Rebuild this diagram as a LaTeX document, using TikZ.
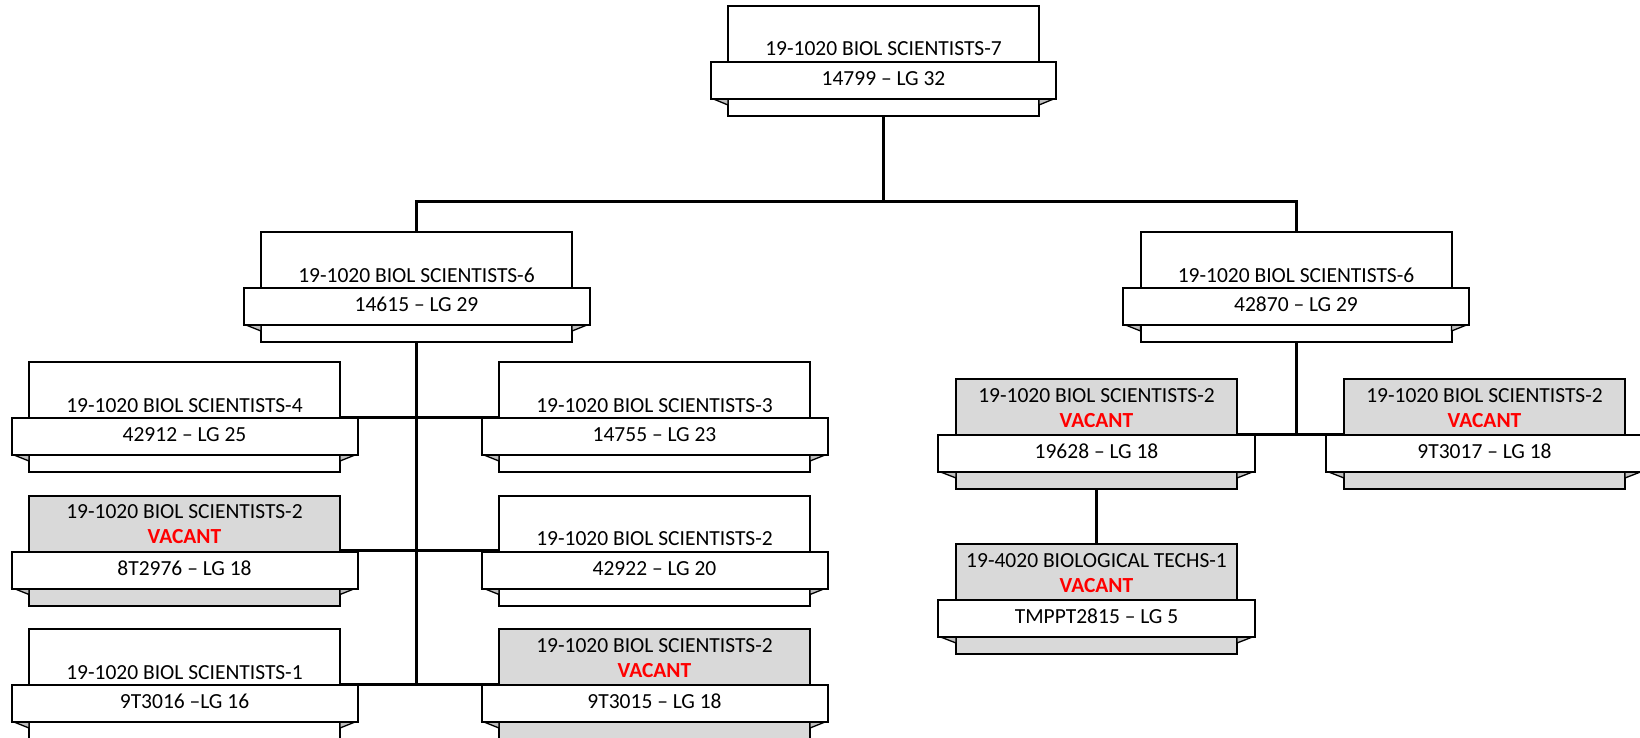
\documentclass[tikz,border=0pt]{standalone}
\usepackage{fontspec}
\setmainfont{Carlito}
\definecolor{vacgray}{HTML}{D9D9D9}
\definecolor{foldgray}{HTML}{BFBFBF}
\definecolor{vacred}{HTML}{FF0000}
\tikzset{
  upbox/.style={draw=black, line width=2pt, inner sep=0pt, rectangle},
  bandbox/.style={draw=black, fill=white, line width=2pt, inner sep=0pt, rectangle},
  fold/.style={draw=black, fill=foldgray, line width=1.3pt, line join=round},
  conn/.style={draw=black, line width=3pt},
  txt/.style={font=\fontsize{21.5}{25}\selectfont, inner sep=0pt, anchor=base},
  vac/.style={txt, font=\fontsize{21.5}{25}\selectfont\bfseries, text=vacred},
}
% #1 name, #2 cx, #3 top, #4 box width, #5 band width, #6 fill, #7 number
\newcommand{\ribbonbody}[7]{%
  \node[upbox, fill=#6, minimum width=#4pt, minimum height=110pt, anchor=north] (#1) at (#2,#3) {};
  \filldraw[fold] ({#2-#5/2},{#3+93}) -- ({#2-#4/2},{#3+93}) -- ({#2-#4/2},{#3+100}) -- cycle;
  \filldraw[fold] ({#2+#5/2},{#3+93}) -- ({#2+#4/2},{#3+93}) -- ({#2+#4/2},{#3+100}) -- cycle;
  \node[bandbox, minimum width=#5pt, minimum height=37pt, anchor=north] (#1b) at (#2,{#3+56}) {};
  \node[txt] (#1n) at (#2,{#3+80.5}) {#7};
}
% plain box: #1 name #2 cx #3 top #4 bw #5 bandw #6 title #7 number
\newcommand{\plainbox}[7]{%
  \ribbonbody{#1}{#2}{#3}{#4}{#5}{white}{#7}
  \node[txt] (#1t) at (#2,{#3+51}) {#6};
}
\newcommand{\vacbox}[7]{%
  \ribbonbody{#1}{#2}{#3}{#4}{#5}{vacgray}{#7}
  \node[txt] (#1t) at (#2,{#3+24}) {#6};
  \node[vac] (#1v) at (#2,{#3+49}) {VACANT};
}
\begin{document}
\begin{tikzpicture}[x=1pt,y=-1pt]
\useasboundingbox (0,0) rectangle (1640,738);
% top
\plainbox{top}{883.5}{5}{311}{345}{19-1020 BIOL SCIENTISTS-7}{14799 – LG 32}
% level 2
\plainbox{lsix}{416.5}{231}{311}{346}{19-1020 BIOL SCIENTISTS-6}{14615 – LG 29}
\plainbox{rsix}{1296}{231}{311}{346}{19-1020 BIOL SCIENTISTS-6}{42870 – LG 29}
% left children
\plainbox{la}{184.5}{361}{311}{346}{19-1020 BIOL SCIENTISTS-4}{42912 – LG 25}
\vacbox{lb}{184.5}{494.5}{311}{346}{19-1020 BIOL SCIENTISTS-2}{8T2976 – LG 18}
\plainbox{lc}{184.5}{628}{311}{346}{19-1020 BIOL SCIENTISTS-1}{9T3016 –LG 16}
\plainbox{ld}{654.5}{361}{311}{346}{19-1020 BIOL SCIENTISTS-3}{14755 – LG 23}
\plainbox{le}{654.5}{494.5}{311}{346}{19-1020 BIOL SCIENTISTS-2}{42922 – LG 20}
\vacbox{lf}{654.5}{628}{311}{346}{19-1020 BIOL SCIENTISTS-2}{9T3015 – LG 18}
% right children
\vacbox{ra}{1096.5}{378}{281}{317}{19-1020 BIOL SCIENTISTS-2}{19628 – LG 18}
\vacbox{rb}{1484.5}{378}{281}{317}{19-1020 BIOL SCIENTISTS-2}{9T3017 – LG 18}
\vacbox{rc}{1096.5}{543}{281}{317}{19-4020 BIOLOGICAL TECHS-1}{TMPPT2815 – LG 5}
% connectors
\coordinate (hy) at (0,202);
\draw[conn] (top.south) -- (top.south |- hy);
\draw[conn] (lsix.north) -- (lsix.north |- hy) -- (rsix.north |- hy) -- (rsix.north);
\draw[conn] (lsix.south) -- (lsix.south |- lcb.north);
\draw[conn] (la.east |- lab.north) -- (ld.west |- lab.north);
\draw[conn] (lb.east |- lbb.north) -- (le.west |- lbb.north);
\draw[conn] (lc.east |- lcb.north) -- (lf.west |- lcb.north);
\draw[conn] (rsix.south) -- (rsix.south |- rab.north);
\draw[conn] (ra.east |- rab.north) -- (rb.west |- rab.north);
\draw[conn] (ra.south) -- (rc.north);
\end{tikzpicture}
\end{document}
